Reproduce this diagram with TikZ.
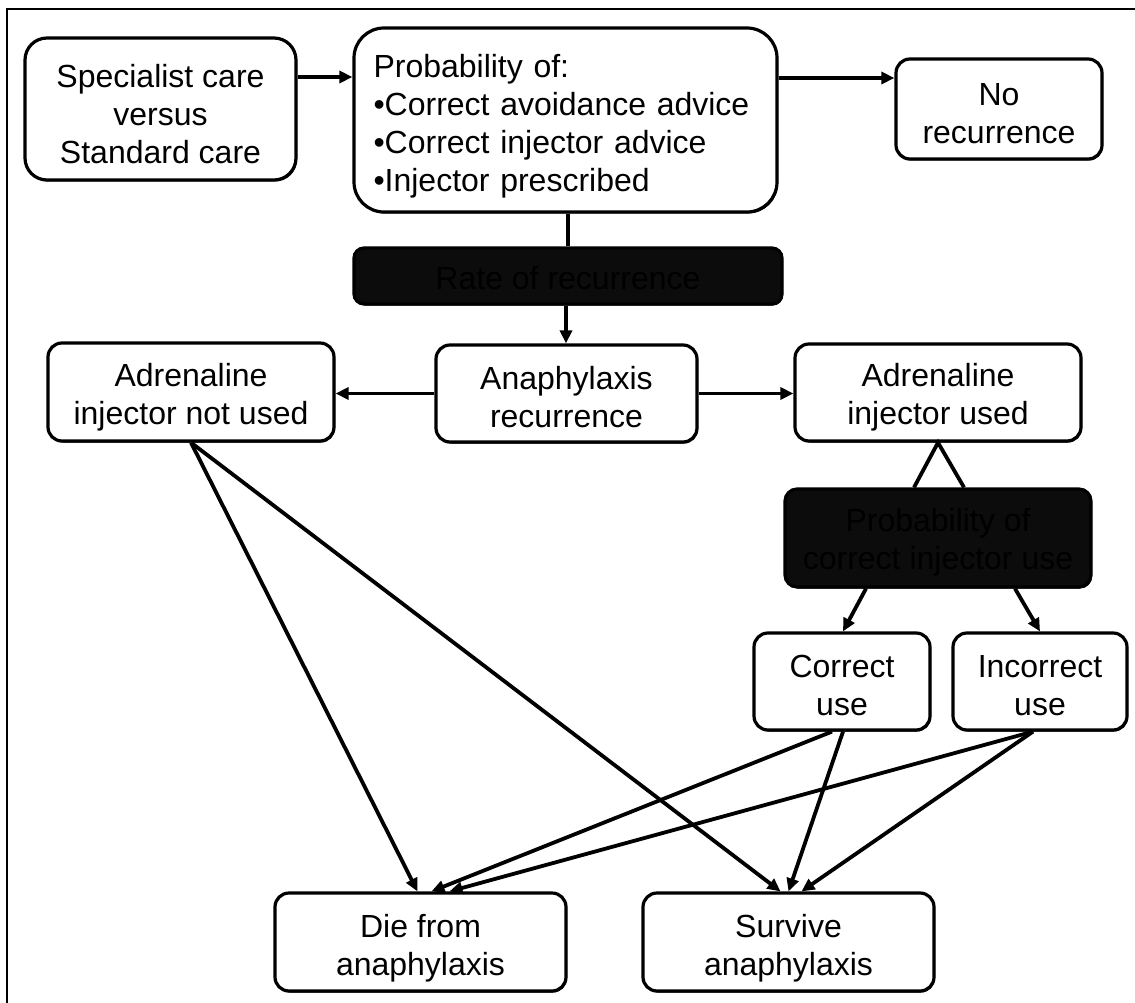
\documentclass[tikz,border=0pt]{standalone}
\usepackage{fontspec}
\setmainfont{Liberation Sans}
\usetikzlibrary{arrows.meta,shadows}
\definecolor{boxblack}{RGB}{11,12,11}
\newcommand\tup[1][33pt]{\rule{0pt}{#1}}
\begin{document}
\begin{tikzpicture}[x=1pt,y=-1pt,
  box/.style={draw, line width=3.2pt, fill=white, rounded corners=14pt, inner sep=0pt,
    align=center, font=\fontsize{32}{38}\selectfont,
    drop shadow={shadow xshift=1pt, shadow yshift=-1.5pt, fill=black, opacity=1}},
  dark/.style={box, fill=boxblack, text=black, rounded corners=10pt},
  conn/.style={line width=3.8pt},
  arr/.style={conn, -{Triangle[length=13pt,width=12pt]}},
]
\useasboundingbox (0,0) rectangle (1135,1003);
% frame (top and left only)
\draw[line width=2.4pt] (7,1003) -- (7,9) -- (1135,9);

% nodes
\node[box, minimum width=271, minimum height=142, rounded corners=22pt] (spec) at (160.5,109) {\tup Specialist care\\versus\\Standard care};
\node[box, minimum width=423, minimum height=184, rounded corners=30pt, align=left, text width=384pt] (prob) at (565.5,120) {\tup[35pt]Probability of:\\•Correct avoidance advice\\•Correct injector advice\\•Injector prescribed};
\node[box, minimum width=206, minimum height=100] (norec) at (999,109) {\tup[31pt]No\\recurrence};
\node[dark, minimum width=428, minimum height=56] (rate) at (568,276) {\tup[27pt]Rate of recurrence};
\node[box, minimum width=286, minimum height=98] (notused) at (191,392) {\tup Adrenaline\\injector not used};
\node[box, minimum width=261, minimum height=97] (ana) at (566.5,393.5) {\tup[30pt]Anaphylaxis\\recurrence};
\node[box, minimum width=286, minimum height=97] (used) at (938,392.5) {\tup Adrenaline\\injector used};
\node[dark, minimum width=306, minimum height=98, rounded corners=12pt] (pcu) at (938,538) {\tup[31pt]Probability of\\correct injector use};
\node[box, minimum width=176, minimum height=97] (correct) at (842,681.5) {\tup[30pt]Correct\\use};
\node[box, minimum width=174, minimum height=97] (incorrect) at (1040,681.5) {\tup[30pt]Incorrect\\use};
\node[box, minimum width=291, minimum height=98] (die) at (420.5,942) {\tup[35pt]Die from\\anaphylaxis};
\node[box, minimum width=291, minimum height=98] (survive) at (788.5,942) {\tup[35pt]Survive\\anaphylaxis};

% connectors
\draw[arr] ([yshift=32pt]spec.east) -- ([yshift=32pt]spec.east -| prob.west);
\draw[arr] ([yshift=42pt]prob.east) -- ([yshift=42pt]prob.east -| norec.west);
\draw[conn] (rate.north |- prob.south) -- (rate.north);
\draw[arr] ([xshift=-2pt]rate.south) -- ([xshift=-2pt]rate.south |- ana.north);
\draw[arr] (ana.west) -- (ana.west -| notused.east);
\draw[arr] (ana.east) -- (ana.east -| used.west);
\draw[conn] ([xshift=-24pt]pcu.north) -- (used.south) -- ([xshift=26pt]pcu.north);
\draw[arr] ([xshift=-72pt]pcu.south) -- ([xshift=1pt]correct.north);
\draw[arr] ([xshift=77pt]pcu.south) -- (incorrect.north);
\draw[arr] (notused.south) -- ([xshift=-3pt]die.north);
\draw[arr] (notused.south) -- ([xshift=-8pt]survive.north);
\draw[arr] ([xshift=-10pt]correct.south) -- ([xshift=11pt]die.north);
\draw[arr] ([xshift=1pt]correct.south) -- (survive.north);
\draw[arr] ([xshift=-7pt]incorrect.south) -- ([xshift=29pt]die.north);
\draw[arr] ([xshift=-7pt]incorrect.south) -- ([xshift=13pt]survive.north);
\end{tikzpicture}
\end{document}
